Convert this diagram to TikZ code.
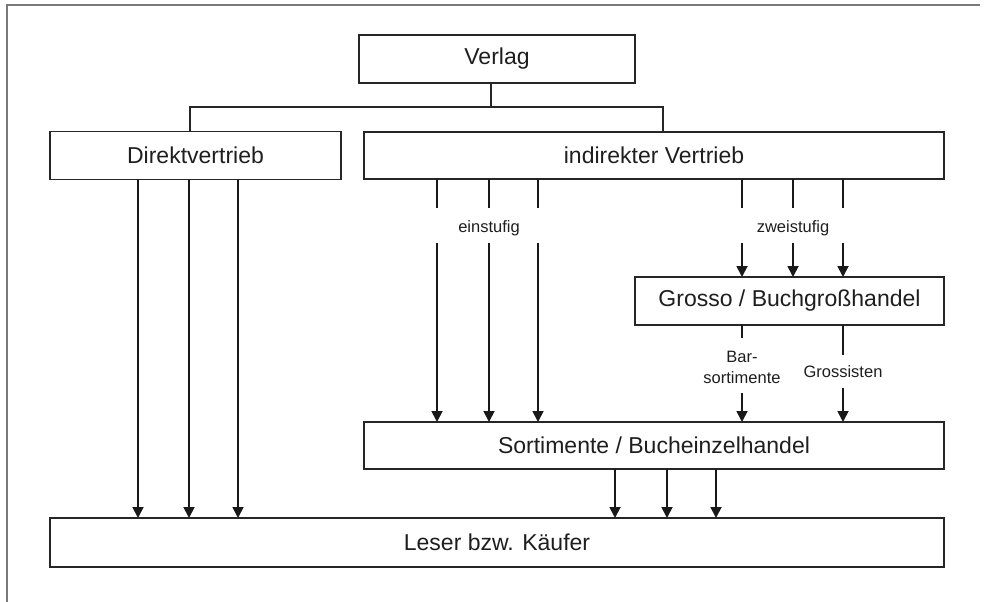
\documentclass[tikz,border=0pt]{standalone}
\usepackage{fontspec}
\setmainfont{Liberation Sans}
\usetikzlibrary{arrows.meta}
\definecolor{txt}{HTML}{1E1E1E}
\definecolor{frm}{HTML}{7A7A7A}
\begin{document}
\begin{tikzpicture}[x=1pt,y=-1pt,
  box/.style={draw=black!85, line width=1.1pt, inner sep=0pt, outer sep=0pt,
    text=txt, font=\fontsize{23}{27}\selectfont},
  lbl/.style={text=txt, font=\fontsize{16.5}{21}\selectfont, align=center, inner sep=0pt},
  conn/.style={draw=black!85, line width=1.1pt},
  flow/.style={draw=black!90, line width=1.8pt},
  arr/.style={flow, -{Triangle[length=11pt,width=11pt]}}]
\useasboundingbox (0,0) rectangle (985,602);
% frame
\draw[frm, line width=2pt] (7,602) -- (7,5) -- (980,5);
% boxes
\node[box, minimum width=276pt, minimum height=48pt] (verlag) at (497,59) {Verlag};
\node[box, minimum width=291pt, minimum height=48pt] (direkt) at (195.5,155.5) {Direktvertrieb};
\node[box, minimum width=580pt, minimum height=47pt] (indirekt) at (654,155.5) {indirekter Vertrieb};
\node[box, minimum width=309pt, minimum height=48pt] (grosso) at (789.5,301) {Grosso / Buchgroßhandel};
\node[box, minimum width=580pt, minimum height=47pt] (sort) at (654,445.5) {Sortimente / Bucheinzelhandel};
\node[box, minimum width=894pt, minimum height=49pt] (leser) at (497,542.5) {Leser bzw. Käufer};
% labels
\node[lbl] (l1) at (489,228) {einstufig};
\node[lbl] (l2) at (793,228) {zweistufig};
\node[lbl] (l3) at (742,367) {Bar-\\sortimente};
\node[lbl] (l4) at (843,372) {Grossisten};
% top connector
\coordinate (bus) at (491,107);
\draw[conn] ([xshift=-6pt]verlag.south) -- (bus);
\draw[conn] (direkt.north -| 190,0) |- (bus) -| (indirekt.north -| 663,0);
% Direktvertrieb -> Leser
\foreach \x in {138,189,238} \draw[arr] (direkt.south -| \x,0) -- (leser.north -| \x,0);
% einstufig
\foreach \x in {437,489,538} {
  \draw[flow] (indirekt.south -| \x,0) -- (\x,208);
  \draw[arr] (\x,243) -- (sort.north -| \x,0);
}
% zweistufig
\foreach \x in {742,793,843} {
  \draw[flow] (indirekt.south -| \x,0) -- (\x,208);
  \draw[arr] (\x,243) -- (grosso.north -| \x,0);
}
% Grosso -> Sortimente
\draw[flow] (grosso.south -| 742,0) -- (742,338);
\draw[arr] (742,393) -- (sort.north -| 742,0);
\draw[flow] (grosso.south -| 843,0) -- (843,355);
\draw[arr] (843,388) -- (sort.north -| 843,0);
% Sortimente -> Leser
\foreach \x in {615,667,716} \draw[arr] (sort.south -| \x,0) -- (leser.north -| \x,0);
\end{tikzpicture}
\end{document}
